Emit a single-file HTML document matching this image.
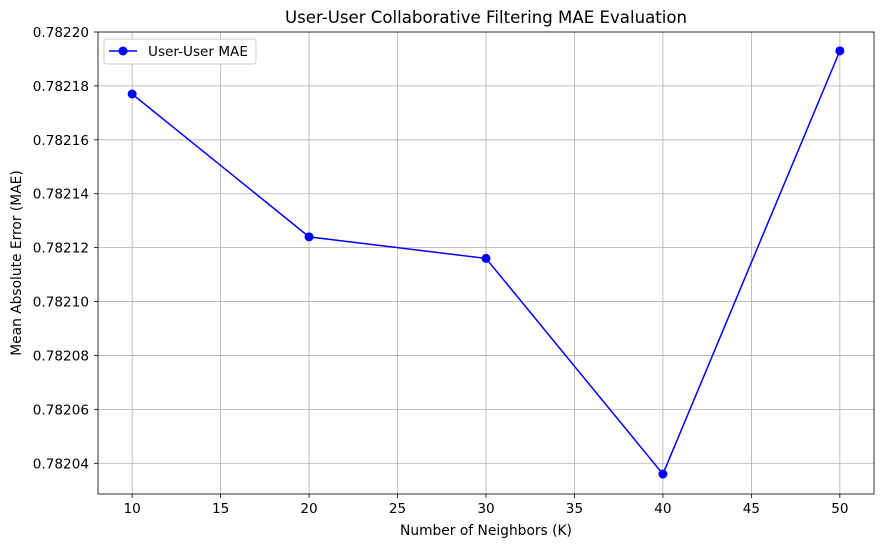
<!DOCTYPE html>
<html><head><meta charset="utf-8"><style>
body{margin:0;background:#fff;font-family:"Liberation Sans","DejaVu Sans",sans-serif;}
svg text{font-family:"DejaVu Sans","Liberation Sans",sans-serif;}
</style></head><body>
<svg id="chart" width="881" height="547" xmlns="http://www.w3.org/2000/svg"></svg>
<script>
const categories=[10,20,30,40,50];
const maeValues=[0.782177,0.782124,0.782116,0.782036,0.782193];
const xTicks=[10,15,20,25,30,35,40,45,50];
const yTicks=[0.78204,0.78206,0.78208,0.78210,0.78212,0.78214,0.78216,0.78218,0.78220];
const L=98,R=874,T=32,B=494;
const xMin=8.07,xMax=51.93,yMin=0.7820286,yMax=0.78220;
function xs(v){return L+(v-xMin)/(xMax-xMin)*(R-L);}
function ys(v){return B-(v-yMin)/(yMax-yMin)*(B-T);}
const svg=document.getElementById('chart');
const NS='http://www.w3.org/2000/svg';
function mk(tag,attrs,parent){const e=document.createElementNS(NS,tag);for(const k in attrs)e.setAttribute(k,attrs[k]);(parent||svg).appendChild(e);return e;}
const grid=mk('g',{});


xTicks.forEach(t=>{const x=xs(t);
mk('line',{x1:x,x2:x,y1:T,y2:B,stroke:'#b0b0b0','stroke-width':0.8},grid);
mk('line',{x1:x,x2:x,y1:B,y2:B+4,stroke:'#000','stroke-width':0.8});
const tx=mk('text',{x:x,y:B+19,'text-anchor':'middle','font-size':13.6});tx.textContent=t;

});
yTicks.forEach(t=>{const y=ys(t);
mk('line',{x1:L,x2:R,y1:y,y2:y,stroke:'#b0b0b0','stroke-width':0.8},grid);
mk('line',{x1:L-4,x2:L,y1:y,y2:y,stroke:'#000','stroke-width':0.8});
const tx=mk('text',{x:L-9,y:y+5,'text-anchor':'end','font-size':13.6});tx.textContent=t.toFixed(5);

});
const frame=mk('rect',{x:L,y:T,width:R-L,height:B-T,fill:'none',stroke:'#000','stroke-width':0.8});


const pts=categories.map((c,i)=>xs(c)+','+ys(maeValues[i])).join(' ');
const line=mk('polyline',{points:pts,fill:'none',stroke:'#0000ff','stroke-width':1.5});


categories.forEach((c,i)=>{const p=mk('circle',{cx:xs(c),cy:ys(maeValues[i]),r:4.5,fill:'#0000ff'});

});
const title=mk('text',{x:(L+R)/2,y:23,'text-anchor':'middle','font-size':16.6});title.textContent='User-User Collaborative Filtering MAE Evaluation';


const xl=mk('text',{x:(L+R)/2,y:535,'text-anchor':'middle','font-size':13.8});xl.textContent='Number of Neighbors (K)';


const yl=mk('text',{x:21,y:(T+B)/2,'text-anchor':'middle','font-size':13.8,transform:'rotate(-90 21 '+((T+B)/2)+')'});yl.textContent='Mean Absolute Error (MAE)';


const lg=mk('g',{});


mk('rect',{x:104,y:39,width:152,height:25,fill:'#fff',stroke:'#ccc',rx:3},lg);
mk('line',{x1:109,x2:137,y1:51,y2:51,stroke:'#0000ff','stroke-width':1.5},lg);
mk('circle',{cx:123,cy:51,r:4.5,fill:'#0000ff'},lg);
const lt=mk('text',{x:148,y:56,'font-size':13.6},lg);lt.textContent='User-User MAE';


</script>
</body></html>
